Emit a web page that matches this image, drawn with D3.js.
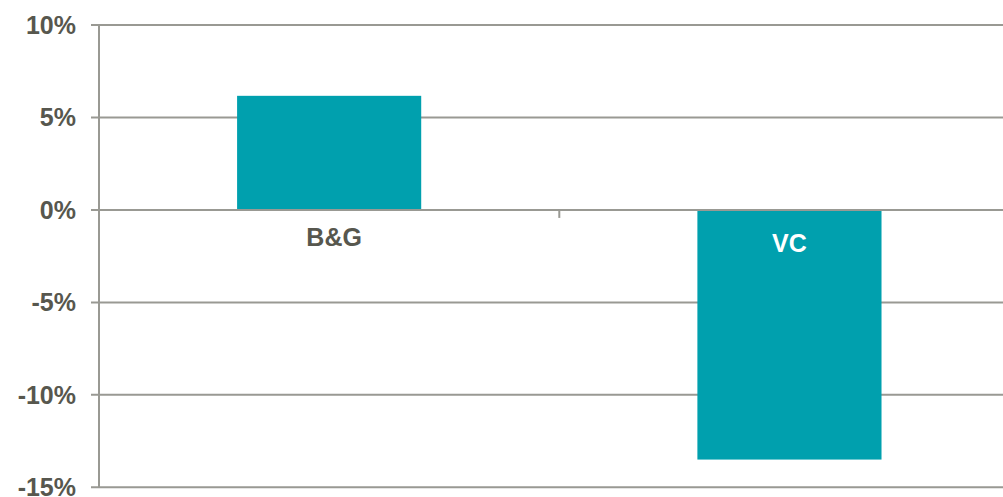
<!DOCTYPE html>
<html>
<head>
<meta charset="utf-8">
<script src="https://cdn.jsdelivr.net/npm/d3@7"></script>
<style>
  body { margin: 0; background: #fff; }
  svg { display: block; font-family: "Liberation Sans", Arial, sans-serif; }
</style>
</head>
<body>
<svg id="chart"></svg>
<script>
const categories = ["B&G", "VC"];
const values = [6.17, -13.5];
const yTicks = [10, 5, 0, -5, -10, -15];

const width = 1003, height = 497;
const svg = d3.select("#chart").attr("width", width).attr("height", height);

// plot area runs past the right edge, like the cropped original
const x = d3.scaleBand().domain(categories).range([99, 1019.6]).paddingInner(0).paddingOuter(0);
const y = d3.scaleLinear().domain([-15, 10]).range([487.3, 25]);

const gridColor = "#999993";
const textColor = "#57574e";
const barColor = "#00a0ae";

// gridlines + y ticks
svg.append("g")
  .selectAll("line")
  .data(yTicks)
  .join("line")
    .attr("x1", 91)
    .attr("x2", width)
    .attr("y1", d => y(d))
    .attr("y2", d => y(d))
    .attr("stroke", gridColor)
    .attr("stroke-width", 2);

// y axis line
svg.append("line")
  .attr("x1", 99).attr("x2", 99)
  .attr("y1", y(10)).attr("y2", y(-15))
  .attr("stroke", gridColor)
  .attr("stroke-width", 2);

// y labels
svg.append("g")
  .selectAll("text")
  .data(yTicks)
  .join("text")
    .attr("x", 76)
    .attr("y", d => y(d))
    .attr("dy", "0.36em")
    .attr("text-anchor", "end")
    .attr("font-size", 25)
    .attr("font-weight", "bold")
    .attr("fill", textColor)
    .text(d => d + "%");

// bars (gap width 150%)
const barW = x.bandwidth() * 0.4;
svg.append("g")
  .selectAll("rect")
  .data(categories)
  .join("rect")
    .attr("x", (d) => x(d) + (x.bandwidth() - barW) / 2)
    .attr("width", barW)
    .attr("y", (d, i) => y(Math.max(0, values[i])))
    .attr("height", (d, i) => Math.abs(y(values[i]) - y(0)))
    .attr("fill", barColor);

// zero line on top of bars
svg.append("line")
  .attr("x1", 91).attr("x2", width)
  .attr("y1", y(0)).attr("y2", y(0))
  .attr("stroke", gridColor)
  .attr("stroke-width", 2);

// category tick marks on the zero line
svg.append("g")
  .selectAll("line")
  .data(categories.slice(1))
  .join("line")
    .attr("x1", d => x(d))
    .attr("x2", d => x(d))
    .attr("y1", y(0))
    .attr("y2", y(0) + 8)
    .attr("stroke", gridColor)
    .attr("stroke-width", 2);

// category labels
svg.append("g")
  .selectAll("text")
  .data(categories)
  .join("text")
    .attr("x", (d, i) => x(d) + x.bandwidth() / 2 + (values[i] < 0 ? 0 : 5))
    .attr("y", (d, i) => values[i] < 0 ? 251.5 : 245.5)
    .attr("text-anchor", "middle")
    .attr("font-size", 25)
    .attr("font-weight", "bold")
    .attr("fill", (d, i) => values[i] < 0 ? "#ffffff" : textColor)
    .text(d => d);
</script>
</body>
</html>
